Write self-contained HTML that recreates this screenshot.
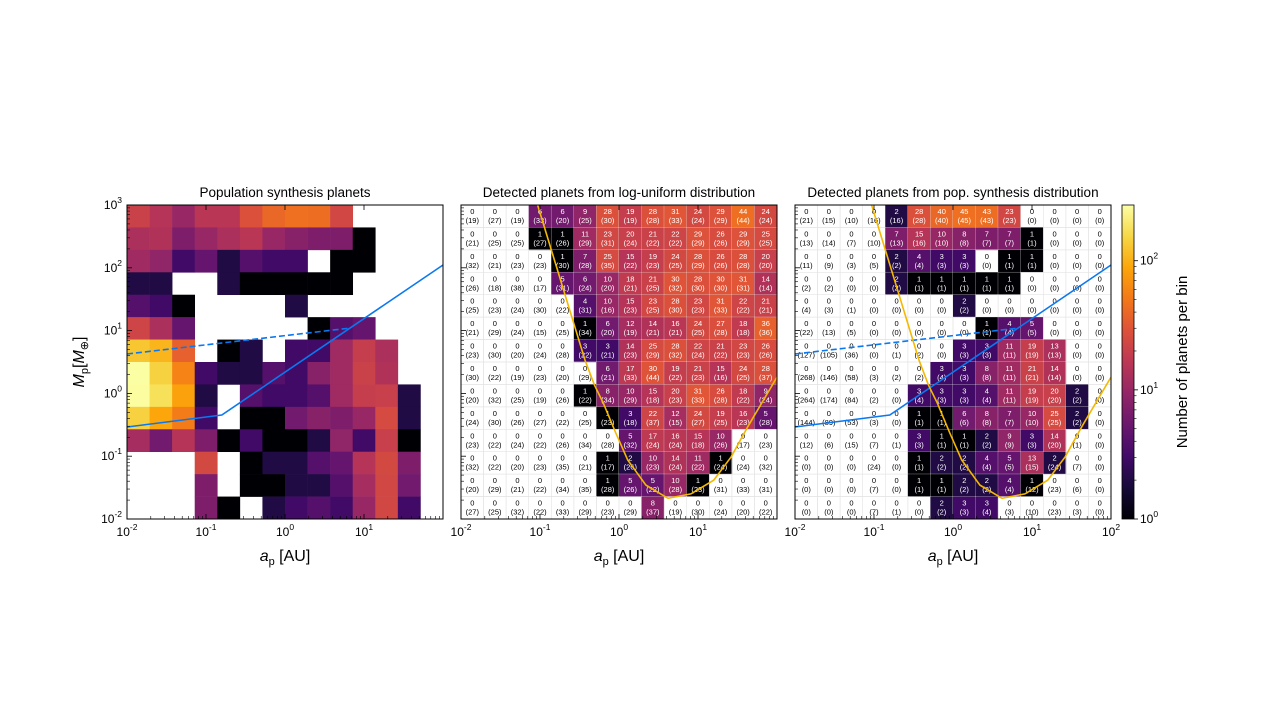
<!DOCTYPE html>
<html><head><meta charset="utf-8"><style>
body{margin:0;background:#fff;}
svg{display:block;font-family:"Liberation Sans","DejaVu Sans",sans-serif;}
</style></head><body>
<svg id="fig" width="1274" height="718" viewBox="0 0 1274 718" xmlns="http://www.w3.org/2000/svg">
<defs>
<linearGradient id="cbgrad" x1="0" y1="1" x2="0" y2="0">
<stop offset="0" stop-color="#000004"/><stop offset="0.1" stop-color="#160b39"/><stop offset="0.2" stop-color="#420a68"/><stop offset="0.3" stop-color="#6a176e"/><stop offset="0.4" stop-color="#932667"/><stop offset="0.5" stop-color="#bc3754"/><stop offset="0.6" stop-color="#dd513a"/><stop offset="0.7" stop-color="#f37819"/><stop offset="0.8" stop-color="#fca50a"/><stop offset="0.9" stop-color="#f6d746"/><stop offset="1" stop-color="#fcffa4"/>
</linearGradient>
</defs>
</svg>
<script>
// ---- data (rows top -> bottom, i.e. high mass -> low mass; columns low a -> high a) ----
const popCounts = [
[21,15,10,16,16,28,40,45,43,23,0,0,0,0],
[13,14,7,10,13,16,10,8,7,7,1,0,0,0],
[11,9,3,5,2,4,3,3,0,1,1,0,0,0],
[2,2,0,0,2,1,1,1,1,1,0,0,0,0],
[4,3,1,0,0,0,0,2,0,0,0,0,0,0],
[22,13,5,0,0,0,0,0,1,4,5,0,0,0],
[127,105,36,0,1,2,0,3,3,11,19,13,0,0],
[268,146,58,3,2,2,4,3,8,11,21,14,0,0],
[264,174,84,2,0,4,3,3,4,11,19,20,2,0],
[144,89,53,3,0,1,1,6,8,7,10,25,2,0],
[12,6,15,7,1,3,1,1,2,9,3,20,1,0],
[0,0,0,24,0,1,2,2,4,5,15,24,7,0],
[0,0,0,7,0,1,1,2,2,4,12,23,6,0],
[0,0,0,7,1,0,2,3,4,3,10,23,3,0]];
const popDetected = [
[0,0,0,0,2,28,40,45,43,23,0,0,0,0],
[0,0,0,0,7,15,10,8,7,7,1,0,0,0],
[0,0,0,0,2,4,3,3,0,1,1,0,0,0],
[0,0,0,0,2,1,1,1,1,1,0,0,0,0],
[0,0,0,0,0,0,0,2,0,0,0,0,0,0],
[0,0,0,0,0,0,0,0,1,4,5,0,0,0],
[0,0,0,0,0,0,0,3,3,11,19,13,0,0],
[0,0,0,0,0,0,3,3,8,11,21,14,0,0],
[0,0,0,0,0,3,3,3,4,11,19,20,2,0],
[0,0,0,0,0,1,1,6,8,7,10,25,2,0],
[0,0,0,0,0,3,1,1,2,9,3,14,0,0],
[0,0,0,0,0,1,2,2,4,5,13,2,0,0],
[0,0,0,0,0,1,1,2,2,4,1,0,0,0],
[0,0,0,0,0,0,2,3,3,0,0,0,0,0]];
const logDetected = [
[0,0,0,6,6,9,28,19,28,31,24,29,44,24],
[0,0,0,1,1,11,23,20,21,22,29,26,29,25],
[0,0,0,0,1,7,25,15,19,24,28,26,28,20],
[0,0,0,0,5,6,10,18,21,30,28,30,31,14],
[0,0,0,0,0,4,10,15,23,28,23,31,22,21],
[0,0,0,0,0,1,6,12,14,16,24,27,18,36],
[0,0,0,0,0,3,3,14,25,28,22,21,23,26],
[0,0,0,0,0,0,6,17,30,19,21,15,24,28],
[0,0,0,0,0,1,8,10,15,20,31,26,18,9],
[0,0,0,0,0,0,1,3,22,12,24,19,16,5],
[0,0,0,0,0,0,0,5,17,16,15,10,0,0],
[0,0,0,0,0,0,1,2,10,14,11,1,0,0],
[0,0,0,0,0,0,1,5,5,10,1,0,0,0],
[0,0,0,0,0,0,0,0,8,0,0,0,0,0]];
const logTotal = [
[19,27,19,33,20,25,30,19,28,33,24,29,44,24],
[21,25,25,27,26,29,31,24,22,22,29,26,29,25],
[32,21,23,23,30,28,35,22,23,25,29,26,28,20],
[26,18,38,17,31,24,20,21,25,32,30,30,31,14],
[25,23,24,30,22,31,16,23,25,30,23,33,22,21],
[21,29,24,15,25,34,20,19,21,21,25,28,18,36],
[23,30,20,24,28,22,21,23,29,32,24,22,23,26],
[30,22,19,23,20,29,21,33,44,22,23,16,25,37],
[20,32,25,19,26,22,34,29,18,23,33,28,22,24],
[24,30,26,27,22,25,23,18,37,15,27,25,23,28],
[23,22,24,22,26,34,28,32,24,24,18,26,17,23],
[32,22,20,23,35,21,17,26,23,24,22,24,24,32],
[20,29,21,22,34,35,28,26,22,28,23,31,33,31],
[27,25,32,22,33,29,23,29,37,19,30,24,20,22]];
const xTickExp = [-2,-1,0,1,2];
const yTickExp = [3,2,1,0,-1,-2];
const cbTickExp = [0,1,2];
// blue lines: [log10 a, log10 M]
const solidLine = [[-2,-0.535],[-0.8,-0.344],[2,2.045]];
const dashedLine = [[-2,0.627],[0.82,1.04]];
// detection limit curve [log10 a, log10 M]
const detCurve = [[-1.03,3],[-0.43,0.53],[-0.31,0.13],[-0.2,-0.15],[-0.04,-0.63],[0.11,-1.06],[0.34,-1.46],[0.62,-1.67],[0.91,-1.6],[1.2,-1.38],[1.42,-1.01],[1.63,-0.53],[2,0.26]];
const vmax = 270;

// ---- layout ----
const NS="http://www.w3.org/2000/svg";
const svg=document.getElementById('fig');
const PW=316, PH=314, PT=205, NX=14, NY=14;
const panelsX=[127,461,795];
function xs(p,l){return panelsX[p]+(l+2)/4*PW;}
function ys(l){return PT+(3-l)/5*PH;}
function el(tag,attrs,parent){const e=document.createElementNS(NS,tag);for(const k in attrs)e.setAttribute(k,attrs[k]);(parent||svg).appendChild(e);return e;}
const stops=[[0,[0,0,4]],[0.1,[22,11,57]],[0.2,[66,10,104]],[0.3,[106,23,110]],[0.4,[147,38,103]],[0.5,[188,55,84]],[0.6,[221,81,58]],[0.7,[243,120,25]],[0.8,[252,165,10]],[0.9,[246,215,70]],[1,[252,255,164]]];
function inferno(v){let t=Math.log(v)/Math.log(vmax);t=Math.max(0,Math.min(1,t));
for(let i=1;i<stops.length;i++){if(t<=stops[i][0]){const a=stops[i-1],b=stops[i];const f=(t-a[0])/(b[0]-a[0]);const c=a[1].map((x,j)=>Math.round(x+(b[1][j]-x)*f));return `rgb(${c[0]},${c[1]},${c[2]})`;}}return 'rgb(252,255,164)';}
const cw=PW/NX, ch=PH/NY;

function drawCells(p,vals,tops,bots,name){
  const g=el('g',{});  
  for(let r=0;r<NY;r++)for(let c=0;c<NX;c++){
    const v=vals[r][c]; const x=panelsX[p]+c*cw, y=PT+r*ch;
    if(tops){const rc=el('rect',{x:x,y:y,width:cw,height:ch,fill:'none',stroke:'#e4e4e4','stroke-width':0.6},g);}
    if(v>0){const rc=el('rect',{x:x,y:y,width:cw+0.3,height:ch+0.3,fill:inferno(v)},g);
      
      }
    if(tops){const col=tops[r][c]>0?'#fff':'#000';
      const t1=el('text',{x:x+cw/2,y:y+9,'font-size':7.5,'text-anchor':'middle',fill:col},g);t1.textContent=tops[r][c];
      
      
      const t2=el('text',{x:x+cw/2,y:y+18,'font-size':7.5,'text-anchor':'middle',fill:col},g);t2.textContent='('+bots[r][c]+')';
      
      }
  }
}
drawCells(0,popCounts,null,null,'population-heatmap');
drawCells(1,logDetected,logDetected,logTotal,'log-uniform-heatmap');
drawCells(2,popDetected,popDetected,popCounts,'pop-synthesis-heatmap');

function poly(p,pts,attrs,name){
  const d=pts.map((q,i)=>(i?'L':'M')+xs(p,q[0]).toFixed(1)+','+ys(q[1]).toFixed(1)).join(' ');
  const e=el('path',Object.assign({d:d,fill:'none'},attrs));
  
  
}
[0,2].forEach(p=>{
  poly(p,solidLine,{stroke:'#0a78f0','stroke-width':1.6},'mass-limit-solid-line');
  poly(p,dashedLine,{stroke:'#0a78f0','stroke-width':1.6,'stroke-dasharray':'6,3'},'mass-limit-dashed-line');
});
[1,2].forEach(p=>{
  const clip=el('clipPath',{id:'clip'+p});el('rect',{x:panelsX[p],y:PT,width:PW,height:PH},clip);
  poly(p,detCurve,{stroke:'#f5b800','stroke-width':1.6,'clip-path':'url(#clip'+p+')'},'detection-limit-curve');
});

const titles=['Population synthesis planets','Detected planets from log-uniform distribution','Detected planets from pop. synthesis distribution'];
for(let p=0;p<3;p++){
  const x0=panelsX[p];
  const fr=el('rect',{x:x0,y:PT,width:PW,height:PH,fill:'none',stroke:'#000','stroke-width':1});
  
  
  const tt=el('text',{x:x0+PW/2,y:197,'font-size':13.5,'text-anchor':'middle',fill:'#000'});tt.textContent=titles[p];
  
  
  // x ticks
  for(let e=-2;e<=2;e++){
    const x=xs(p,e);
    el('line',{x1:x,y1:PT+PH,x2:x,y2:PT+PH-5,stroke:'#000','stroke-width':0.8});
    el('line',{x1:x,y1:PT,x2:x,y2:PT+5,stroke:'#000','stroke-width':0.8});
    if(e<2)for(let m=2;m<10;m++){const xm=xs(p,e+Math.log10(m));el('line',{x1:xm,y1:PT+PH,x2:xm,y2:PT+PH-3,stroke:'#000','stroke-width':0.6});}
  }
  xTickExp.forEach(e=>{
    if(e===2&&p<2)return;
    const t=el('text',{x:xs(p,e),y:PT+PH+17,'font-size':12,'text-anchor':'middle'});
    t.innerHTML='10<tspan dy="-6" font-size="8.5">'+e+'</tspan>';
    
    
  });
  for(let e=-2;e<=3;e++){
    const y=ys(e);
    el('line',{x1:x0,y1:y,x2:x0+5,y2:y,stroke:'#000','stroke-width':0.8});
    if(e<3)for(let m=2;m<10;m++){const ym=ys(e+Math.log10(m));el('line',{x1:x0,y1:ym,x2:x0+3,y2:ym,stroke:'#000','stroke-width':0.6});}
  }
  const xl=el('text',{x:x0+PW/2,y:561,'font-size':16,'text-anchor':'middle'});
  xl.innerHTML='<tspan font-style="italic">a</tspan><tspan dy="4" font-size="11">p</tspan><tspan dy="-4"> [AU]</tspan>';
  
  
}
yTickExp.forEach(e=>{
  const t=el('text',{x:122,y:ys(e)+4,'font-size':12,'text-anchor':'end'});
  t.innerHTML='10<tspan dy="-6" font-size="8.5">'+e+'</tspan>';
  
  
});
const yl=el('text',{x:0,y:0,'font-size':16,'text-anchor':'middle',transform:'translate(84,362) rotate(-90)'});
yl.innerHTML='<tspan font-style="italic">M</tspan><tspan dy="4" font-size="11">p</tspan><tspan dy="-4">[</tspan><tspan font-style="italic">M</tspan><tspan dy="4" font-size="11">⊕</tspan><tspan dy="-4">]</tspan>';



// colorbar
const cbX=1122,cbW=12;
const cb=el('rect',{x:cbX,y:PT,width:cbW,height:PH,fill:'url(#cbgrad)',stroke:'#000','stroke-width':0.8});


function cby(l){return PT+PH-l/Math.log10(vmax)*PH;}
cbTickExp.forEach(e=>{
  const y=cby(e);
  el('line',{x1:cbX+cbW,y1:y,x2:cbX+cbW+4,y2:y,stroke:'#000','stroke-width':0.8});
  const t=el('text',{x:cbX+cbW+6,y:y+4,'font-size':12});
  t.innerHTML='10<tspan dy="-6" font-size="8.5">'+e+'</tspan>';
  
  
  if(e<2)for(let m=2;m<10;m++){const ym=cby(e+Math.log10(m));el('line',{x1:cbX+cbW,y1:ym,x2:cbX+cbW+2.5,y2:ym,stroke:'#000','stroke-width':0.6});}
});
const cbl=el('text',{x:0,y:0,'font-size':15,'text-anchor':'middle',transform:'translate(1187,362) rotate(-90)'});
cbl.textContent='Number of planets per bin';


</script>
</body></html>
